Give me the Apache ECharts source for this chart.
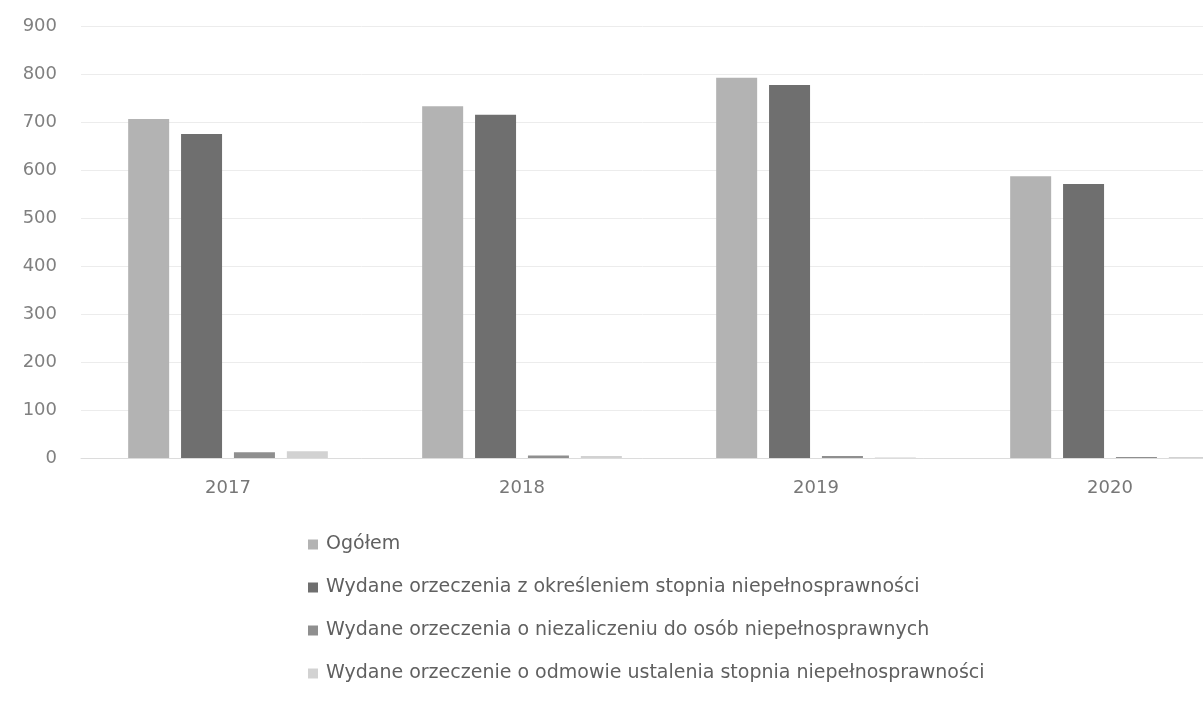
<!DOCTYPE html>
<html>
<head>
<meta charset="utf-8">
<script src="https://cdn.jsdelivr.net/npm/echarts@6/dist/echarts.min.js"></script>
<style>
  html, body { margin: 0; padding: 0; background: #fff; }
  #chart { width: 1203px; height: 707px; }
</style>
</head>
<body>
<div id="chart"></div>
<script>
  const years = ['2017', '2018', '2019', '2020']
  const ogolem = [706, 733, 792, 587]
  const zOkresleniem = [675, 715, 777, 571]
  const oNiezaliczeniu = [12, 5, 4, 2]
  const oOdmowie = [14, 4, 1, 2]
  const yTicks = { min: 0, max: 900, interval: 100 }

  const myChart = echarts.init(document.getElementById('chart'))
  const font = '"DejaVu Sans", "Open Sans", sans-serif'

  const makeBar = (name, data, color) => ({
    name,
    type: 'bar',
    data,
    barWidth: 41,
    barGap: '29%',
    itemStyle: { color },
  })

  const option = {
    animation: false,
    textStyle: { fontFamily: font },
    // the plot runs past the right edge of the picture (cropped like the original)
    grid: { left: 81, width: 1176, top: 26, height: 432, outerBoundsMode: 'none' },
    legend: {
      orient: 'vertical',
      left: 303,
      top: 530,
      itemWidth: 10,
      itemHeight: 10,
      itemGap: 24,
      icon: 'rect',
      textStyle: { color: '#606060', fontSize: 19, fontFamily: font, padding: [0, 0, 0, 3] },
      data: [
        'Ogółem',
        'Wydane orzeczenia z określeniem stopnia niepełnosprawności',
        'Wydane orzeczenia o niezaliczeniu do osób niepełnosprawnych',
        'Wydane orzeczenie o odmowie ustalenia stopnia niepełnosprawności',
      ],
    },
    xAxis: {
      type: 'category',
      data: years,
      axisTick: { show: false },
      axisLine: { lineStyle: { color: '#dcdcdc' } },
      axisLabel: { color: '#777', fontSize: 18, margin: 21 },
    },
    yAxis: {
      type: 'value',
      min: yTicks.min,
      max: yTicks.max,
      interval: yTicks.interval,
      axisLine: { show: false },
      axisTick: { show: false },
      axisLabel: { color: '#808080', fontSize: 18, margin: 24 },
      splitLine: { lineStyle: { color: '#ececec' } },
    },
    series: [
      makeBar('Ogółem', ogolem, '#b3b3b3'),
      makeBar('Wydane orzeczenia z określeniem stopnia niepełnosprawności', zOkresleniem, '#6f6f6f'),
      makeBar('Wydane orzeczenia o niezaliczeniu do osób niepełnosprawnych', oNiezaliczeniu, '#8f8f8f'),
      makeBar('Wydane orzeczenie o odmowie ustalenia stopnia niepełnosprawności', oOdmowie, '#d2d2d2'),
    ],
  }

  myChart.setOption(option)
</script>
</body>
</html>
